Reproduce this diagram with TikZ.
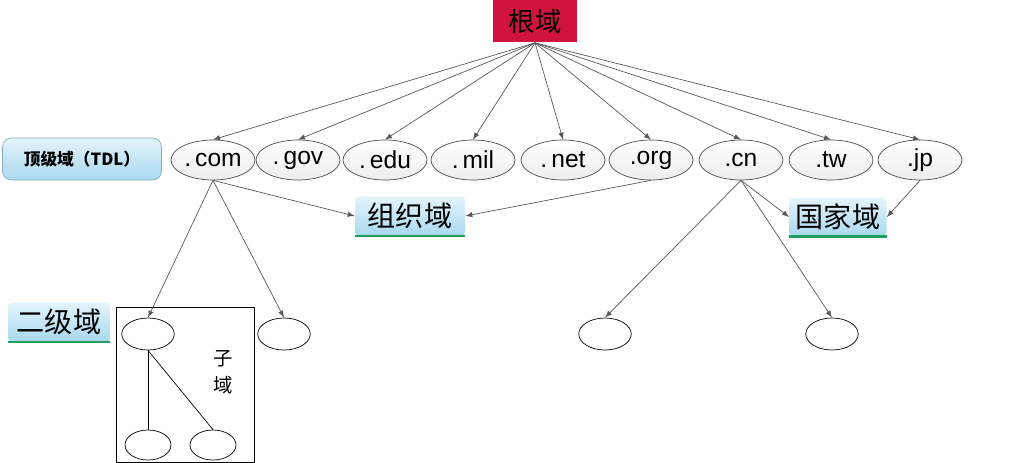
\documentclass[tikz,border=0pt]{standalone}
\usepackage{fontspec}
\setmainfont{Liberation Sans}
\newfontfamily\cjk{Noto Sans CJK SC}
\usetikzlibrary{shapes.geometric}

\definecolor{rootred}{HTML}{D0143C}
\definecolor{tagtop}{HTML}{E4F4FC}
\definecolor{tagbot}{HTML}{A8D8EF}
\definecolor{tagline}{HTML}{1FA060}
\definecolor{ellfill}{HTML}{EDEDED}

\begin{document}
\begin{tikzpicture}[
    x=0.02cm, y=-0.02cm,
    root/.style={rectangle, fill=rootred, minimum width=1.7cm, minimum height=0.86cm, font=\cjk\fontsize{15}{15}\selectfont},
    tld/.style={ellipse, draw=black!70, top color=white, bottom color=ellfill, minimum width=1.68cm, minimum height=0.8cm, inner sep=0pt, font=\fontsize{14}{14}\selectfont},
    sub/.style={ellipse, draw, minimum width=1.05cm, minimum height=0.64cm, inner sep=0pt},
    leaf/.style={ellipse, draw, minimum width=0.92cm, minimum height=0.6cm, inner sep=0pt},
    tag/.style={rectangle, rounded corners=2pt, top color=tagtop, bottom color=tagbot, inner sep=1pt, font=\cjk\fontsize{16}{16}\selectfont},
    pointer/.style={-latex, draw=black!65, thin}
]
\useasboundingbox (0,0) rectangle (1011,463);

% root
\node[root] (root) at (535, 21) {根域};

% top level domains
\node[tag, draw=tagbot!80!black, minimum width=3.18cm, minimum height=0.84cm, rounded corners=5pt,
      font=\cjk\bfseries\fontsize{9.5}{10}\selectfont] (tdl) at (82, 159) {顶级域（TDL）};

\node[tld] (com) at (213, 160) {.\,com};
\node[tld] (gov) at (298, 160) {.\,gov};
\node[tld] (edu) at (385, 160) {.\,edu};
\node[tld] (mil) at (473, 160) {.\,mil};
\node[tld] (net) at (563, 160) {.\,net};
\node[tld] (org) at (651, 160) {.org};
\node[tld] (cn) at (741, 160) {.cn};
\node[tld] (tw) at (831, 160) {.tw};
\node[tld] (jp) at (920, 160) {.jp};

\foreach \t in {com, gov, edu, mil, net, org, cn, tw, jp}
    \draw[pointer] (root.south) -- (\t.north);

% groups
\node[tag, minimum width=2.2cm, minimum height=0.78cm] (orgdom) at (410, 216) {组织域};
\draw[tagline, line width=1.4pt] (orgdom.south west) -- (orgdom.south east);
\node[tag, minimum width=1.94cm, minimum height=0.76cm] (natdom) at (838, 217) {国家域};
\draw[tagline, line width=1.4pt] (natdom.south west) -- (natdom.south east);

\draw[pointer] (com.south) -- (orgdom.west);
\draw[pointer] (org.south) -- (orgdom.east);
\draw[pointer] (cn.south) -- (natdom.west);
\draw[pointer] (jp.south) -- (natdom.east);

% second level
\node[tag, minimum width=2.04cm, minimum height=0.78cm] (second) at (59, 322) {二级域};
\draw[tagline, line width=1.4pt] (second.south west) -- (second.south east);

\draw (116, 307) rectangle (254, 462);
\node[font=\cjk\fontsize{11}{11}\selectfont] (zi) at (223, 359) {子};
\node[font=\cjk\fontsize{11}{11}\selectfont] (yu) at (223, 385) {域};

\node[sub] (s1) at (148, 334) {};
\node[sub] (s2) at (284, 334) {};
\node[sub] (s3) at (605, 334) {};
\node[sub] (s4) at (832, 334) {};
\node[leaf] (l1) at (148, 445) {};
\node[leaf] (l2) at (213, 445) {};

\draw[pointer] (com.south) -- (s1.north);
\draw[pointer] (com.south) -- (s2.north);
\draw[pointer] (cn.south) -- (s3.north);
\draw[pointer] (cn.south) -- (s4.north);

\draw (s1.south) -- (l1.north);
\draw (s1.south) -- (l2.north);

\end{tikzpicture}
\end{document}
